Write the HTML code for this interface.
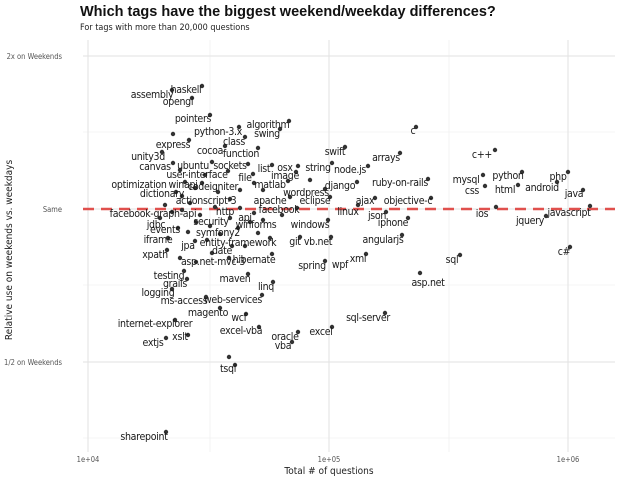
<!DOCTYPE html>
<html><head><meta charset="utf-8"><style>
body{margin:0;background:#fff}
svg{display:block}
.l{font-family:"DejaVu Sans Condensed","Liberation Sans Narrow","Liberation Sans",sans-serif;font-size:10.5px;letter-spacing:-0.3px;fill:#1a1a1a;text-anchor:middle}
.t{font-family:"DejaVu Sans Condensed","Liberation Sans",sans-serif;font-size:7.5px;fill:#555}
</style></head><body>
<svg width="620" height="482" viewBox="0 0 620 482" xmlns="http://www.w3.org/2000/svg">
<rect width="620" height="482" fill="#fff"/>
<text x="80" y="16" font-family="Liberation Sans,sans-serif" font-weight="bold" font-size="14.5" fill="#111">Which tags have the biggest weekend/weekday differences?</text>
<text x="80" y="30" font-family="DejaVu Sans Condensed,Liberation Sans,sans-serif" font-size="9" fill="#222">For tags with more than 20,000 questions</text>
<g stroke="#ebebeb" stroke-width="0.6">
<line x1="210" y1="40" x2="210" y2="452"/><line x1="449" y1="40" x2="449" y2="452"/>
<line x1="83" y1="132" x2="615" y2="132"/><line x1="83" y1="285" x2="615" y2="285"/><line x1="83" y1="438" x2="615" y2="438"/>
</g>
<g stroke="#e2e2e2" stroke-width="1">
<line x1="88" y1="40" x2="88" y2="452"/><line x1="329" y1="40" x2="329" y2="452"/><line x1="568" y1="40" x2="568" y2="452"/>
<line x1="83" y1="56" x2="615" y2="56"/><line x1="83" y1="209" x2="615" y2="209"/><line x1="83" y1="362" x2="615" y2="362"/>
</g>
<line x1="83" y1="209" x2="615" y2="209" stroke="#e0504d" stroke-width="2.5" stroke-dasharray="11,7"/>
<text class="t" x="62" y="59" text-anchor="end">2x on Weekends</text>
<text class="t" x="62" y="212" text-anchor="end">Same</text>
<text class="t" x="62" y="365" text-anchor="end">1/2 on Weekends</text>
<text class="t" x="88" y="462" text-anchor="middle">1e+04</text>
<text class="t" x="329" y="462" text-anchor="middle">1e+05</text>
<text class="t" x="568" y="462" text-anchor="middle">1e+06</text>
<text x="329" y="474" text-anchor="middle" font-family="DejaVu Sans Condensed,Liberation Sans,sans-serif" font-size="10" fill="#222">Total # of questions</text>
<text transform="translate(12,250) rotate(-90)" text-anchor="middle" font-family="DejaVu Sans Condensed,Liberation Sans,sans-serif" font-size="10" fill="#222">Relative use on weekends vs. weekdays</text>
<g fill="#333">
<circle cx="202" cy="86" r="2.2"/><circle cx="172" cy="90" r="2.2"/><circle cx="192" cy="98" r="2.2"/><circle cx="210" cy="115" r="2.2"/><circle cx="289" cy="121" r="2.2"/><circle cx="280" cy="129" r="2.2"/><circle cx="239" cy="127" r="2.2"/><circle cx="245" cy="137" r="2.2"/><circle cx="189" cy="140" r="2.2"/><circle cx="173" cy="134" r="2.2"/><circle cx="416" cy="127" r="2.2"/><circle cx="225" cy="146" r="2.2"/><circle cx="258" cy="148" r="2.2"/><circle cx="345" cy="147" r="2.2"/><circle cx="400" cy="153" r="2.2"/><circle cx="162" cy="152" r="2.2"/><circle cx="495" cy="150" r="2.2"/>
<circle cx="173" cy="163" r="2.2"/><circle cx="212" cy="162" r="2.2"/><circle cx="248" cy="164" r="2.2"/><circle cx="272" cy="165" r="2.2"/><circle cx="298" cy="166" r="2.2"/><circle cx="332" cy="163" r="2.2"/><circle cx="368" cy="166" r="2.2"/><circle cx="296" cy="172" r="2.2"/><circle cx="228" cy="171" r="2.2"/><circle cx="253" cy="174" r="2.2"/><circle cx="483" cy="175" r="2.2"/><circle cx="522" cy="172" r="2.2"/><circle cx="568" cy="172" r="2.2"/><circle cx="518" cy="185" r="2.2"/><circle cx="557" cy="182" r="2.2"/><circle cx="583" cy="190" r="2.2"/><circle cx="485" cy="186" r="2.2"/>
<circle cx="185" cy="182" r="2.2"/><circle cx="202" cy="183" r="2.2"/><circle cx="195" cy="188" r="2.2"/><circle cx="254" cy="183" r="2.2"/><circle cx="288" cy="181" r="2.2"/><circle cx="357" cy="182" r="2.2"/><circle cx="428" cy="179" r="2.2"/><circle cx="176" cy="192" r="2.2"/><circle cx="325" cy="189" r="2.2"/><circle cx="230" cy="199" r="2.2"/><circle cx="290" cy="197" r="2.2"/><circle cx="330" cy="197" r="2.2"/><circle cx="375" cy="198" r="2.2"/><circle cx="431" cy="198" r="2.2"/>
<circle cx="182" cy="210" r="2.2"/><circle cx="240" cy="208" r="2.2"/><circle cx="297" cy="208" r="2.2"/><circle cx="358" cy="205" r="2.2"/><circle cx="386" cy="212" r="2.2"/><circle cx="496" cy="207" r="2.2"/><circle cx="590" cy="206" r="2.2"/><circle cx="254" cy="213" r="2.2"/><circle cx="230" cy="218" r="2.2"/><circle cx="263" cy="220" r="2.2"/><circle cx="328" cy="220" r="2.2"/><circle cx="408" cy="218" r="2.2"/><circle cx="546" cy="216" r="2.2"/><circle cx="178" cy="228" r="2.2"/><circle cx="238" cy="228" r="2.2"/>
<circle cx="168" cy="238" r="2.2"/><circle cx="195" cy="241" r="2.2"/><circle cx="270" cy="238" r="2.2"/><circle cx="300" cy="237" r="2.2"/><circle cx="331" cy="237" r="2.2"/><circle cx="402" cy="235" r="2.2"/><circle cx="570" cy="247" r="2.2"/><circle cx="232" cy="246" r="2.2"/><circle cx="272" cy="254" r="2.2"/><circle cx="460" cy="255" r="2.2"/><circle cx="167" cy="250" r="2.2"/><circle cx="229" cy="258" r="2.2"/><circle cx="325" cy="261" r="2.2"/><circle cx="366" cy="254" r="2.2"/>
<circle cx="184" cy="271" r="2.2"/><circle cx="248" cy="274" r="2.2"/><circle cx="420" cy="273" r="2.2"/><circle cx="187" cy="279" r="2.2"/><circle cx="273" cy="282" r="2.2"/><circle cx="172" cy="289" r="2.2"/><circle cx="206" cy="297" r="2.2"/><circle cx="262" cy="295" r="2.2"/><circle cx="385" cy="313" r="2.2"/><circle cx="220" cy="308" r="2.2"/><circle cx="175" cy="320" r="2.2"/><circle cx="246" cy="314" r="2.2"/><circle cx="259" cy="327" r="2.2"/><circle cx="332" cy="327" r="2.2"/><circle cx="188" cy="335" r="2.2"/><circle cx="298" cy="332" r="2.2"/><circle cx="166" cy="338" r="2.2"/><circle cx="292" cy="342" r="2.2"/><circle cx="229" cy="357" r="2.2"/><circle cx="235" cy="365" r="2.2"/><circle cx="166" cy="432" r="2.2"/>
<circle cx="165" cy="205" r="2.2"/><circle cx="172" cy="212" r="2.2"/><circle cx="190" cy="203" r="2.2"/><circle cx="200" cy="215" r="2.2"/><circle cx="210" cy="226" r="2.2"/><circle cx="215" cy="207" r="2.2"/><circle cx="196" cy="222" r="2.2"/><circle cx="188" cy="232" r="2.2"/><circle cx="207" cy="240" r="2.2"/><circle cx="220" cy="234" r="2.2"/><circle cx="245" cy="246" r="2.2"/><circle cx="212" cy="253" r="2.2"/><circle cx="258" cy="233" r="2.2"/><circle cx="282" cy="215" r="2.2"/><circle cx="182" cy="196" r="2.2"/><circle cx="205" cy="175" r="2.2"/><circle cx="180" cy="170" r="2.2"/><circle cx="240" cy="190" r="2.2"/><circle cx="263" cy="190" r="2.2"/><circle cx="310" cy="180" r="2.2"/><circle cx="196" cy="262" r="2.2"/><circle cx="180" cy="258" r="2.2"/><circle cx="250" cy="222" r="2.2"/><circle cx="160" cy="218" r="2.2"/><circle cx="218" cy="192" r="2.2"/>
</g>
<g class="l">
<text x="186" y="93">haskell</text><text x="152" y="98">assembly</text><text x="178" y="105">opengl</text><text x="193" y="122">pointers</text><text x="268" y="128">algorithm</text><text x="267" y="137">swing</text><text x="218" y="135">python-3.x</text><text x="234" y="145">class</text><text x="173" y="148">express</text><text x="413" y="134">c</text><text x="210" y="154">cocoa</text><text x="241" y="157">function</text><text x="335" y="155">swift</text><text x="386" y="161">arrays</text><text x="148" y="160">unity3d</text><text x="482" y="158">c++</text>
<text x="155" y="170">canvas</text><text x="193" y="169">ubuntu</text><text x="230" y="169">sockets</text><text x="264" y="172">list</text><text x="285" y="171">osx</text><text x="318" y="171">string</text><text x="350" y="173">node.js</text><text x="285" y="179">image</text><text x="197" y="178">user-interface</text><text x="245" y="181">file</text>
<text x="466" y="183">mysql</text><text x="508" y="179">python</text><text x="558" y="180">php</text><text x="505" y="193">html</text><text x="542" y="191">android</text><text x="574" y="197">java</text><text x="472" y="194">css</text>
<text x="139" y="188">optimization</text><text x="183" y="188">winapi</text><text x="213" y="190">codeigniter</text><text x="270" y="188">matlab</text><text x="340" y="189">django</text><text x="400" y="186">ruby-on-rails</text><text x="162" y="197">dictionary</text><text x="306" y="196">wordpress</text>
<text x="206" y="204">actionscript-3</text><text x="270" y="204">apache</text><text x="315" y="204">eclipse</text><text x="365" y="204">ajax</text><text x="408" y="204">objective-c</text>
<text x="153" y="217">facebook-graph-api</text><text x="225" y="215">http</text><text x="279" y="213">facebook</text><text x="348" y="215">linux</text><text x="377" y="219">json</text><text x="482" y="217">ios</text><text x="569" y="216">javascript</text>
<text x="245" y="221">api</text><text x="156" y="228">jdbc</text><text x="211" y="225">security</text><text x="256" y="228">winforms</text><text x="310" y="228">windows</text><text x="393" y="226">iphone</text><text x="530" y="224">jquery</text>
<text x="165" y="233">events</text><text x="218" y="236">symfony2</text><text x="158" y="243">iframe</text><text x="188" y="249">jpa</text><text x="238" y="246">entity-framework</text><text x="295" y="245">git</text><text x="318" y="245">vb.net</text><text x="383" y="243">angularjs</text><text x="564" y="255">c#</text>
<text x="222" y="254">date</text><text x="254" y="263">hibernate</text><text x="452" y="263">sql</text><text x="155" y="258">xpath</text><text x="213" y="265">asp.net-mvc-3</text><text x="312" y="269">spring</text><text x="340" y="268">wpf</text><text x="358" y="262">xml</text>
<text x="169" y="279">testing</text><text x="235" y="282">maven</text><text x="428" y="286">asp.net</text><text x="175" y="287">grails</text><text x="266" y="290">linq</text><text x="158" y="296">logging</text><text x="184" y="304">ms-access</text><text x="233" y="303">web-services</text>
<text x="368" y="321">sql-server</text><text x="208" y="316">magento</text><text x="155" y="327">internet-explorer</text><text x="239" y="321">wcf</text><text x="241" y="334">excel-vba</text><text x="321" y="335">excel</text><text x="180" y="340">xslt</text><text x="285" y="340">oracle</text><text x="283" y="349">vba</text><text x="153" y="346">extjs</text><text x="228" y="372">tsql</text><text x="144" y="440">sharepoint</text>
</g>
</svg>
</body></html>
